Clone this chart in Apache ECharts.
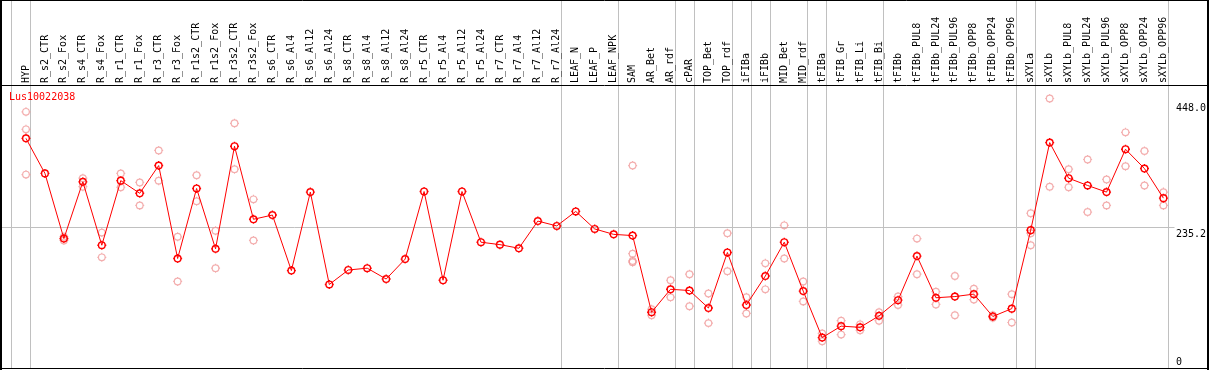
<!DOCTYPE html>
<html>
<head>
<meta charset="utf-8">
<script src="https://cdn.jsdelivr.net/npm/echarts@6/dist/echarts.min.js"></script>
<style>html,body{margin:0;padding:0;background:#fff}#c{width:1209px;height:370px}</style>
</head>
<body>
<div id="c"></div>
<script>
const geneName = 'Lus10022038';
const categories = ['HYP','R_s2_CTR','R_s2_Fox','R_s4_CTR','R_s4_Fox','R_r1_CTR','R_r1_Fox','R_r3_CTR','R_r3_Fox','R_r1s2_CTR','R_r1s2_Fox','R_r3s2_CTR','R_r3s2_Fox','R_s6_CTR','R_s6_Al4','R_s6_Al12','R_s6_Al24','R_s8_CTR','R_s8_Al4','R_s8_Al12','R_s8_Al24','R_r5_CTR','R_r5_Al4','R_r5_Al12','R_r5_Al24','R_r7_CTR','R_r7_Al4','R_r7_Al12','R_r7_Al24','LEAF_N','LEAF_P','LEAF_NPK','SAM','AR_Bet','AR_rdf','cPAR','TOP_Bet','TOP_rdf','iFIBa','iFIBb','MID_Bet','MID_rdf','tFIBa','tFIB_Gr','tFIB_Li','tFIB_Bi','tFIBb','tFIBb_PUL8','tFIBb_PUL24','tFIBb_PUL96','tFIBb_OPP8','tFIBb_OPP24','tFIBb_OPP96','sXYLa','sXYLb','sXYLb_PUL8','sXYLb_PUL24','sXYLb_PUL96','sXYLb_OPP8','sXYLb_OPP24','sXYLb_OPP96'];
const meanValues = [382,324,216,310,205,312,291,337,183,299,199,369,248,255,163,293,140,164,167,149,182,294,147,294,210,206,200,245,237,261,232,223,221,94,132,130,101,193,106,154,210,129,52,71,69,88,114,187,118,120,124,87,100,230,375,316,304,293,364,332,283];
const rep1 = [426,null,219,316,226,324,309,362,219,321,229,407,281,null,null,null,null,null,null,null,null,null,null,null,null,null,null,null,null,null,null,null,337,99,147,157,125,225,119,175,238,145,59,80,64,94,120,216,128,154,133,89,124,258,448,331,347,314,392,361,293];
const rep2 = [397,null,213,302,185,301,271,312,145,278,167,331,213,null,null,null,null,null,null,null,null,null,null,null,null,null,null,null,null,null,null,null,191,89,119,104,76,162,92,132,183,112,46,57,74,80,106,157,107,89,115,85,77,225,302,301,260,271,336,304,271];
const rep3 = [322,null,null,null,null,null,null,null,null,null,null,null,null,null,null,null,null,null,null,null,null,null,null,null,null,null,null,null,null,null,null,null,179,null,null,null,null,null,null,null,null,null,null,null,null,null,null,null,null,null,null,null,null,205,null,null,null,null,null,null,null];
const rep4 = [null,null,null,null,null,null,null,null,null,null,null,null,null,null,null,null,null,null,null,null,null,null,null,null,null,null,null,null,null,null,null,null,177,null,null,null,null,null,null,null,null,null,null,null,null,null,null,null,null,null,null,null,null,null,null,null,null,null,null,null,null];
const yTickValues = [0, 235.2, 448.0];
const yMax = 470.4;
const groupEnds = ['HYP','R_r7_Al24','LEAF_NPK','AR_rdf','cPAR','TOP_rdf','iFIBa','iFIBb','MID_rdf','tFIBa','tFIB_Bi','tFIBb_OPP96','sXYLa','sXYLb_OPP96'];

const MONO = 'DejaVu Sans Mono';
const sym = 'path://M-3.4,0 A3.4,3.4 0 1,0 3.4,0 A3.4,3.4 0 1,0 -3.4,0 Z M0,-3.4 L0,-4.6 M0,3.4 L0,4.6 M-3.4,0 L-4.6,0 M3.4,0 L4.6,0';

const repData = [];
[rep1, rep2, rep3, rep4].forEach(r => r.forEach((v, i) => { if (v != null) repData.push([i, v]); }));

const chart = echarts.init(document.getElementById('c'));
const W = 1209, H = 370;
const gridLeft = 16.5, gridRight = 33.5, gridTop = 85, gridBottom = 1;

chart.setOption({
  animation: false,
  backgroundColor: '#fff',
  title: {
    text: geneName, left: 9, top: 92, padding: 0,
    textStyle: { color: '#ff0000', fontSize: 10, fontFamily: MONO, fontWeight: 'normal' }
  },
  grid: { left: gridLeft, right: gridRight, top: gridTop, bottom: gridBottom },
  xAxis: {
    type: 'category', position: 'top', data: categories, boundaryGap: true,
    axisLine: { show: false }, axisTick: { show: false }, splitLine: { show: false },
    axisLabel: { interval: 0, rotate: 90, margin: 2, fontFamily: MONO, fontSize: 10, color: '#000' }
  },
  yAxis: {
    type: 'value', min: 0, max: yMax, position: 'right',
    axisLine: { show: false }, axisTick: { show: false }, splitLine: { show: false },
    axisLabel: {
      customValues: yTickValues, margin: 3, align: 'left', color: '#000', fontFamily: MONO, fontSize: 10,
      formatter: v => v === 0 ? '{z|0}' : (v === 448 ? '{t|' + v.toFixed(1) + '}' : '{m|' + v.toFixed(1) + '}'),
      rich: {
        t: { padding: [19, 0, 0, 0], fontFamily: MONO, fontSize: 10, color: '#000' },
        m: { padding: [14, 0, 0, 0], fontFamily: MONO, fontSize: 10, color: '#000' },
        z: { padding: [0, 0, 13, 0], fontFamily: MONO, fontSize: 10, color: '#000' }
      }
    }
  },
  series: [
    {
      type: 'scatter', data: repData, symbol: sym, symbolSize: 9, z: 2,
      itemStyle: { color: 'none', borderColor: '#f09a9a', borderWidth: 1.2 }
    },
    {
      type: 'line', data: meanValues, symbol: sym, symbolSize: 9, showSymbol: true, z: 3,
      lineStyle: { color: '#ff0000', width: 1 },
      itemStyle: { color: 'none', borderColor: '#ff0000', borderWidth: 1.4 }
    }
  ]
});

// decorations placed through the axes' own pixel conversion
const p0 = chart.convertToPixel({ xAxisIndex: 0 }, 0);
const band = chart.convertToPixel({ xAxisIndex: 0 }, 1) - p0;
const els = [];
const sepX = [p0 - band * 0.75].concat(groupEnds.map(n => chart.convertToPixel({ xAxisIndex: 0 }, categories.indexOf(n)) + band * 0.25));
sepX.forEach(x => {
  const xx = Math.floor(x) + 0.5;
  els.push({ type: 'line', z: 0, shape: { x1: xx, y1: 0, x2: xx, y2: 369 }, style: { stroke: '#c0c0c0', lineWidth: 1 } });
});
const yMid = Math.round(chart.convertToPixel({ yAxisIndex: 0 }, yMax / 2)) + 0.5;
els.push({ type: 'line', z: 0, shape: { x1: 1, y1: yMid, x2: W - gridRight - 1, y2: yMid }, style: { stroke: '#c0c0c0', lineWidth: 1 } });
const yTop = chart.convertToPixel({ yAxisIndex: 0 }, yMax);
const yBot = chart.convertToPixel({ yAxisIndex: 0 }, 0);
// frame
els.push({ type: 'line', z: 10, shape: { x1: 0, y1: 0.5, x2: W, y2: 0.5 }, style: { stroke: '#000', lineWidth: 1 } });
els.push({ type: 'line', z: 10, shape: { x1: 0, y1: Math.round(yTop) + 0.5, x2: W, y2: Math.round(yTop) + 0.5 }, style: { stroke: '#000', lineWidth: 1 } });
els.push({ type: 'line', z: 10, shape: { x1: 0, y1: Math.round(yBot) - 0.5, x2: W, y2: Math.round(yBot) - 0.5 }, style: { stroke: '#000', lineWidth: 1 } });
els.push({ type: 'line', z: 10, shape: { x1: 1, y1: 0, x2: 1, y2: H }, style: { stroke: '#000', lineWidth: 2 } });
els.push({ type: 'line', z: 10, shape: { x1: 1208, y1: 0, x2: 1208, y2: H }, style: { stroke: '#000', lineWidth: 2 } });
chart.setOption({ graphic: { elements: els } });
</script>
</body>
</html>
